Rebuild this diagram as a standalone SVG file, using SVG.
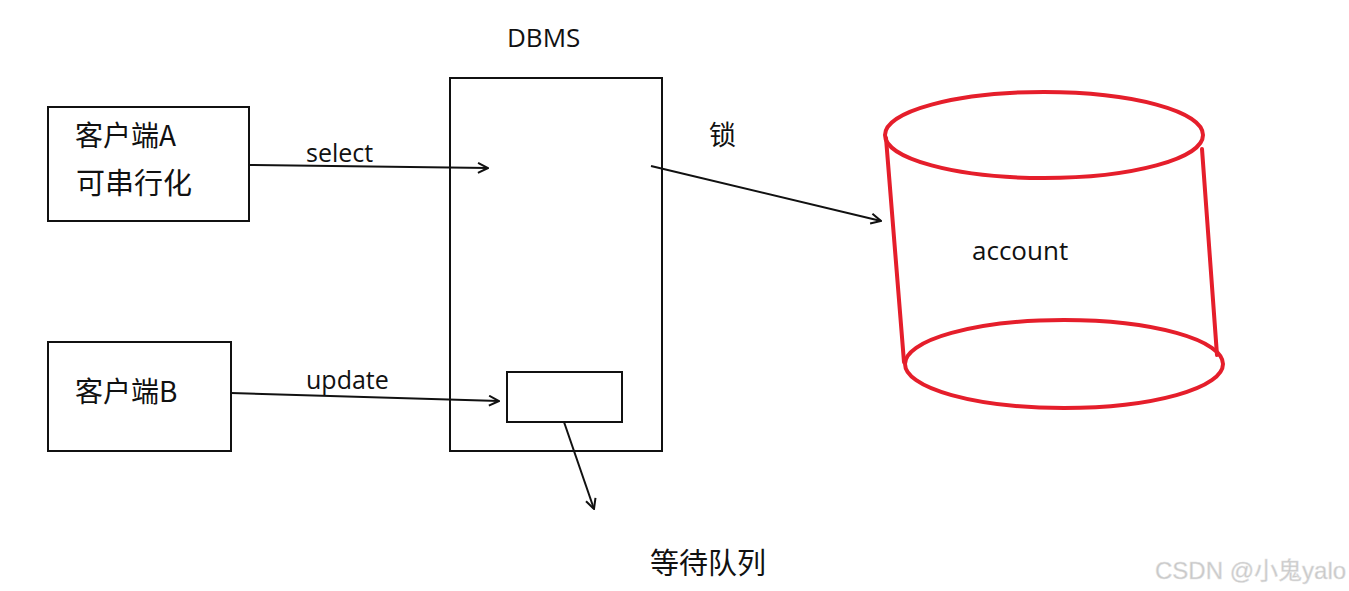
<svg xmlns="http://www.w3.org/2000/svg" width="1349" height="591" viewBox="0 0 1349 591">
<defs>
<style>
.box{fill:none;stroke:#111;stroke-width:2}
.t{font-family:"Open Sans","Noto Sans CJK SC",sans-serif;fill:#111}
.cn{font-family:"Noto Sans CJK SC","Noto Sans",sans-serif;fill:#111}
.red{fill:none;stroke:#e51e2b;stroke-width:4;stroke-linecap:round}
.conn{fill:none;stroke:#111;stroke-width:2;marker-end:url(#arr)}
</style>
<marker id="arr" viewBox="0 0 12 12" refX="11" refY="6" markerWidth="12" markerHeight="12" markerUnits="userSpaceOnUse" orient="auto">
<path d="M1,1 L11,6 L1,11" fill="none" stroke="#111" stroke-width="2"/>
</marker>
</defs>
<rect width="1349" height="591" fill="#fff"/>
<g id="clientA">
<rect class="box" x="48" y="107" width="201" height="114"/>
<text class="cn" x="75" y="146" font-size="28">客户端A</text>
<text class="cn" x="76" y="194" font-size="29">可串行化</text>
</g>
<g id="clientB">
<rect class="box" x="48" y="342" width="183" height="109"/>
<text class="cn" x="75" y="402" font-size="28">客户端B</text>
</g>
<g id="dbms">
<text class="t" x="507" y="47" font-size="26">DBMS</text>
<rect class="box" x="450" y="78" width="212" height="373"/>
</g>
<g id="queue">
<rect class="box" x="507" y="372" width="115" height="50"/>
</g>
<g id="account">
<ellipse class="red" cx="1044" cy="135" rx="159" ry="43"/>
<ellipse class="red" cx="1064" cy="364" rx="159" ry="44"/>
<line class="red" x1="886" y1="138" x2="904" y2="362"/>
<line class="red" x1="1202" y1="149" x2="1217" y2="355"/>
<text class="t" x="972" y="260" font-size="26">account</text>
</g>
<g id="connectors">
<line class="conn" x1="249" y1="165" x2="488" y2="168"/>
<line class="conn" x1="231" y1="393" x2="499" y2="401"/>
<line class="conn" x1="651" y1="166" x2="881" y2="221"/>
<line class="conn" x1="564" y1="422" x2="594" y2="509"/>
</g>
<g id="labels">
<text class="t" x="306" y="162" font-size="25">select</text>
<text class="t" x="306" y="389" font-size="25">update</text>
<text class="cn" x="709" y="145" font-size="27">锁</text>
<text class="cn" x="650" y="574" font-size="29">等待队列</text>
</g>
<g id="watermark">
<text x="1155" y="579" font-size="24" font-family="'Liberation Sans','Noto Sans CJK SC',sans-serif" fill="#c8c8c8" stroke="#e4e4e4" stroke-width="0.5">CSDN @小鬼yalo</text>
</g>
</svg>
